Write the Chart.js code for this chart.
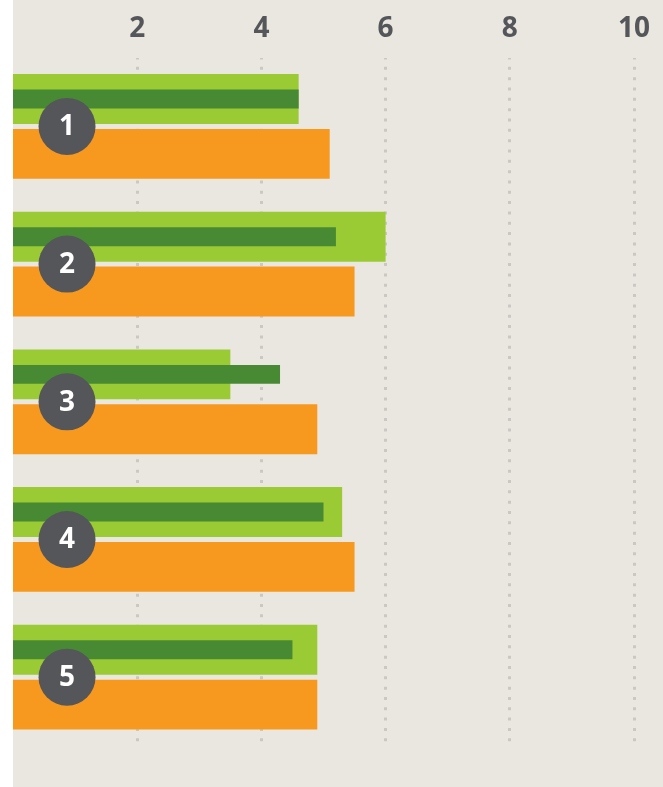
<!DOCTYPE html>
<html>
<head>
<meta charset="utf-8">
<script src="https://cdn.jsdelivr.net/npm/chart.js@4/dist/chart.umd.min.js"></script>
<style>
  html, body { margin: 0; padding: 0; background: #ffffff; }
  .chart-wrap {
    position: absolute;
    left: 13px;
    top: 0;
    width: 650px;
    height: 787px;
    background: #eae6e0;
  }
</style>
</head>
<body>
<div class="chart-wrap"><canvas id="bars"></canvas></div>
<script>
// categories (shown as the numbered badges)
var categories = ["1", "2", "3", "4", "5"];

// series values
var lightGreenValues = [4.6, 6.0, 3.5, 5.3, 4.9];
var darkGreenValues = [4.6, 5.2, 4.3, 5.0, 4.5];
var orangeValues = [5.1, 5.5, 4.9, 5.5, 4.9];

// tick labels on the top axis
var tickValues = [2, 4, 6, 8, 10];

var GREY = "#55565a";

// draws the round numbered badges on each category
var badgePlugin = {
  id: "badges",
  afterDatasetsDraw(chart, args, opts) {
    var ctx = chart.ctx;
    var xs = chart.scales.x;
    var ys = chart.scales.y;
    var cx = xs.getPixelForValue(opts.xValue);
    ctx.save();
    categories.forEach((label, i) => {
      var cy = ys.getPixelForValue(i);
      ctx.beginPath();
      ctx.arc(cx, cy, opts.radius, 0, Math.PI * 2);
      ctx.fillStyle = GREY;
      ctx.fill();
      ctx.fillStyle = "#ffffff";
      ctx.font = "bold 28px 'Open Sans'";
      ctx.textAlign = "center";
      ctx.textBaseline = "middle";
      ctx.fillText(label, cx, cy + 1);
    });
    ctx.restore();
  },
};

// light and dark green share one slot (stack "g") and overlap, orange sits below
var data = {
  labels: categories,
  datasets: [
    {
      label: "dark green",
      data: darkGreenValues,
      backgroundColor: "#488a33",
      stack: "g",
      order: 0,
      categoryPercentage: 110 / 138,
      barPercentage: 19 / 55,
    },
    {
      label: "light green",
      data: lightGreenValues,
      backgroundColor: "#9acb34",
      stack: "g",
      order: 1,
      categoryPercentage: 110 / 138,
      barPercentage: 50 / 55,
    },
    {
      label: "orange",
      data: orangeValues,
      backgroundColor: "#f8991f",
      stack: "o",
      order: 2,
      categoryPercentage: 110 / 138,
      barPercentage: 50 / 55,
    },
  ],
};

var config = {
  type: "bar",
  data: data,
  plugins: [badgePlugin],
  options: {
    indexAxis: "y",
    responsive: false,
    animation: false,
    layout: {
      padding: { top: 0, bottom: 41, left: 0, right: 29 },
    },
    plugins: {
      legend: { display: false },
      tooltip: { enabled: false },
      badges: { xValue: 0.87, radius: 28.5 },
    },
    scales: {
      x: {
        position: "top",
        min: 0,
        max: 10,
        stacked: false,
        z: 1,
        afterBuildTicks: (scale) => {
          scale.ticks = tickValues.map((v) => ({ value: v }));
        },
        ticks: {
          padding: 12,
          color: GREY,
          font: { family: "'Open Sans'", size: 28, weight: "bold" },
        },
        grid: {
          drawTicks: false,
          lineWidth: 3,
          color: "rgba(80,80,80,0.2)",
        },
        border: { display: false, dash: [3, 7.33], dashOffset: 1.5 },
      },
      y: {
        type: "category",
        display: false,
        offset: true,
        stacked: true,
      },
    },
  },
};

var canvas = document.getElementById("bars");
canvas.width = 650;
canvas.height = 787;
var myChart = new Chart(canvas, config);
</script>
</body>
</html>
